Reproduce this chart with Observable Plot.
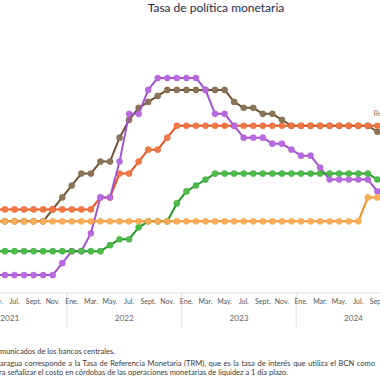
<!DOCTYPE html>
<html>
<head>
<meta charset="utf-8">
<script src="https://cdn.jsdelivr.net/npm/d3@7"></script>
<script src="https://cdn.jsdelivr.net/npm/@observablehq/plot@0.6"></script>
<style>
  html, body { margin: 0; padding: 0; background: #fff; }
  body { width: 380px; height: 380px; overflow: hidden; position: relative; font-family: Lato, "Open Sans", sans-serif; }
  #title { position: absolute; left: 0; width: 432px; top: 0; text-align: center; font-size: 12px; line-height: 16px; color: #1c2b48; z-index: 2; }
  #chart { position: absolute; left: 0; top: 0; }
  #chart svg { background: transparent; overflow: hidden; }
  .foot { position: absolute; white-space: nowrap; text-align: right; font-size: 7.5px; line-height: 10px; color: #3a3a3a; }
</style>
</head>
<body>
<div id="title">Tasa de política monetaria</div>
<div id="chart"></div>
<div class="foot" style="right:265px; top:347px;">Fuente: Comunicados de los bancos centrales.</div>
<div class="foot" style="right:5px; top:359px; word-spacing:0.7px;">Nota: La tasa de Nicaragua corresponde a la Tasa de Referencia Monetaria (TRM), que es la tasa de interés que utiliza el BCN como</div>
<div class="foot" style="right:92px; top:368px;">instrumento para señalizar el costo en córdobas de las operaciones monetarias de liquidez a 1 día plazo.</div>
<script>
// Months (May 2021 – Sep 2024)
const months = [
  "2021-05","2021-06","2021-07","2021-08","2021-09","2021-10","2021-11","2021-12",
  "2022-01","2022-02","2022-03","2022-04","2022-05","2022-06","2022-07","2022-08","2022-09","2022-10","2022-11","2022-12",
  "2023-01","2023-02","2023-03","2023-04","2023-05","2023-06","2023-07","2023-08","2023-09","2023-10","2023-11","2023-12",
  "2024-01","2024-02","2024-03","2024-04","2024-05","2024-06","2024-07","2024-08","2024-09"
];
const repDominicana = [
  3,3,3,3,3,3,3.5,4.0,
  4.5,5.0,5.0,5.5,5.5,6.5,7.25,7.75,8.0,8.25,8.5,8.5,
  8.5,8.5,8.5,8.5,8.5,8.0,7.75,7.75,7.5,7.5,7.25,7.0,
  7.0,7.0,7.0,7.0,7.0,7.0,7.0,7.0,6.75
];
const nicaragua = [
  3.5,3.5,3.5,3.5,3.5,3.5,3.5,3.5,
  3.5,3.5,3.5,4.0,4.0,5.0,5.0,5.5,6.0,6.0,6.5,7.0,
  7,7,7,7,7,7,7,7,7,7,7,7,
  7,7,7,7,7,7,7,7,7
];
const costaRica = [
  0.75,0.75,0.75,0.75,0.75,0.75,0.75,1.25,
  1.75,1.75,2.5,4.0,4.0,5.5,7.5,7.5,8.5,9.0,9.0,9.0,
  9.0,9.0,8.5,7.5,7.5,7.0,6.5,6.5,6.5,6.25,6.25,6.0,
  5.75,5.75,5.25,4.75,4.75,4.75,4.75,4.75,4.25
];
const guatemala = [
  1.75,1.75,1.75,1.75,1.75,1.75,1.75,1.75,
  1.75,1.75,1.75,1.75,2.0,2.25,2.25,2.75,3.0,3.0,3.0,3.75,
  4.25,4.5,4.75,5,5,5,5,5,5,5,5,5,
  5,5,5,5,5,5,5,5,4.75
];
const honduras = [
  3,3,3,3,3,3,3,3,
  3,3,3,3,3,3,3,3,3,3,3,3,
  3,3,3,3,3,3,3,3,3,3,3,3,
  3,3,3,3,3,3,3,4.0,4.0
];
const monthNames = ["Ene.","Feb.","Mar.","Abr.","May.","Jun.","Jul.","Ago.","Sept.","Oct.","Nov.","Dic."];
const years = [2021, 2022, 2023, 2024];

// month index since Jan 2021
const mIdx = s => (+s.slice(0,4) - 2021) * 12 + (+s.slice(5,7) - 1);

const seriesDefs = [
  {name: "Rep. Dominicana", values: repDominicana, line: "#6e5434", dot: "#8d7459"},
  {name: "Nicaragua", values: nicaragua, line: "#e8541f", dot: "#f07845"},
  {name: "Costa Rica", values: costaRica, line: "#a552d0", dot: "#b86ae0"},
  {name: "Guatemala", values: guatemala, line: "#1f9a22", dot: "#4fbb4a"},
  {name: "Honduras", values: honduras, line: "#f39020", dot: "#f7ae5c"}
];

const marks = [];
marks.push(Plot.ruleY([0], {stroke: "#dedede", strokeWidth: 1}));
// year separators
const seps = years.slice(1).map(y => (y - 2021) * 12 - 0.5);
marks.push(Plot.ruleX(seps, {x: d => d, y1: 0, y2: -1.47, stroke: "#e2e2e2", strokeWidth: 1}));
// month labels (every two months)
const monthTicks = months.filter(m => (+m.slice(5,7)) % 2 === 1);
marks.push(Plot.text(monthTicks, {x: mIdx, text: m => monthNames[+m.slice(5,7) - 1], frameAnchor: "bottom", dy: 11, fontSize: 7, fill: "#555", fontFamily: "Lato"}));
// year labels
marks.push(Plot.text(years, {x: y => (y - 2021) * 12 + 5.5, text: y => String(y), frameAnchor: "bottom", dy: 28, fontSize: 8.2, fill: "#666", fontFamily: "Lato"}));

for (const s of seriesDefs) {
  const data = months.map((m, i) => ({t: mIdx(m), v: s.values[i]}));
  marks.push(Plot.line(data, {x: "t", y: "v", stroke: s.line, strokeWidth: 2}));
  marks.push(Plot.dot(data, {x: "t", y: "v", r: 3.1, fill: s.dot, stroke: s.line, strokeWidth: 0.6, strokeOpacity: 0.5}));
}
// end label for Rep. Dominicana (cut by the frame edge, as in the reference crop)
marks.push(Plot.text([{t: mIdx("2024-09"), v: 7.5, label: "Rep. Dominicana"}], {x: "t", y: "v", text: "label", textAnchor: "start", dx: -4, fontSize: 8, fill: "#8a7a6a", fontFamily: "Lato"}));

const chart = Plot.plot({
  width: 380,
  height: 330,
  marginLeft: 0,
  marginRight: 0,
  marginTop: 53.6,
  marginBottom: 37.5,
  x: {type: "linear", domain: [4.534, 44.325], axis: null},
  y: {domain: [0, 10], axis: null},
  style: {background: "transparent", fontFamily: "Lato"},
  marks
});
document.getElementById("chart").appendChild(chart);
</script>
</body>
</html>
